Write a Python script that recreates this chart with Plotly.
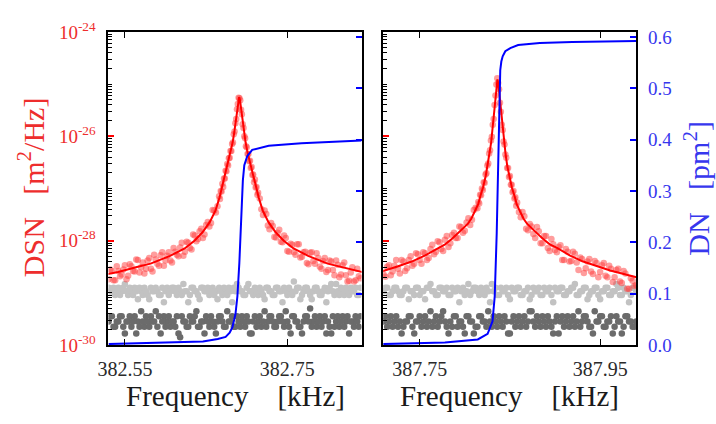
import numpy as np
import plotly.graph_objects as go

# ---------------- data (frequencies in kHz, spectral values as log10 exponents) -------------
LEFT_FREQ = [382.530,382.534,382.538,382.542,382.546,382.550,382.554,382.558,382.562,382.566,
             382.570,382.574,382.578,382.582,382.586,382.590,382.594,382.598,382.602,382.606,
             382.610,382.614,382.618,382.622,382.626,382.630,382.634,382.638,382.642,382.646,
             382.650,382.654,382.658,382.662,382.666,382.670,382.674,382.678,382.682,382.686,
             382.690,382.694,382.698,382.702,382.706,382.710,382.714,382.718,382.722,382.726,
             382.730,382.734,382.738,382.742,382.746,382.750,382.754,382.758,382.762,382.766,
             382.770,382.774,382.778,382.782,382.786,382.790,382.794,382.798,382.802,382.806,
             382.810,382.814,382.818,382.822,382.826,382.830,382.834,382.838]
LEFT_MID_FREQ = [382.532,382.536,382.540,382.544,382.548,382.552,382.556,382.560,382.564,382.568,
                 382.572,382.576,382.580,382.584,382.588,382.592,382.596,382.600,382.604,382.608,
                 382.612,382.616,382.620,382.624,382.628,382.632,382.636,382.640,382.644,382.648,
                 382.652,382.656,382.660,382.664,382.668,382.672,382.676,382.680,382.684,382.688,
                 382.692,382.696,382.700,382.704,382.708,382.712,382.716,382.720,382.724,382.728,
                 382.732,382.736,382.740,382.744,382.748,382.752,382.756,382.760,382.764,382.768,
                 382.772,382.776,382.780,382.784,382.788,382.792,382.796,382.800,382.804,382.808,
                 382.812,382.816,382.820,382.824,382.828,382.832,382.836,382.840]
LEFT_FINE_FREQ = [382.667,382.668,382.669,382.670,382.671,382.672,382.673,382.674,382.675,382.676,
                  382.677,382.678,382.679,382.680,382.681,382.682,382.683,382.684,382.685,382.686,
                  382.687,382.688,382.689,382.690,382.691,382.692,382.693,382.694,382.695,382.696,
                  382.697,382.698,382.699,382.700,382.701,382.702,382.703,382.704,382.705,382.706,
                  382.707,382.708,382.709,382.710,382.711,382.712,382.713,382.714]
LEFT_DSN_LOG = [-28.74,-28.58,-28.76,-28.58,-28.65,-28.47,-28.67,-28.49,-28.59,-28.37,
                -28.51,-28.63,-28.38,-28.54,-28.27,-28.44,-28.28,-28.48,-28.29,-28.38,
                -28.14,-28.27,-28.13,-28.29,-28.02,-28.14,-27.88,-28.01,-27.82,-27.95,
                -27.70,-27.73,-27.41,-27.46,-27.15,
                -27.20,-27.05,-27.06,-26.91,-26.97,-26.81,-26.81,-26.66,-26.67,-26.53,
                -26.56,-26.42,-26.41,-26.28,-26.28,-26.15,-26.12,-25.96,-25.91,-25.75,
                -25.67,-25.48,-25.38,-25.26,-25.27,-25.31,-25.49,-25.58,-25.77,-25.84,
                -26.00,-26.04,-26.19,-26.21,-26.34,-26.34,-26.48,-26.47,-26.61,-26.59,
                -26.74,-26.73,-26.88,-26.83,-26.98,-26.97,-27.12,-27.08,
                -27.40,-27.42,-27.71,-27.66,-27.93,-27.85,-28.02,-27.90,-28.20,-28.06,
                -28.22,-28.07,-28.32,-28.22,-28.43,-28.23,-28.39,-28.24,-28.50,-28.39,
                -28.60,-28.38,-28.56,-28.38,-28.70,-28.47,-28.66,-28.77,-28.51,-28.76,
                -28.68]
LEFT_DSN_MID_LOG = [-28.55,-28.76,-28.49,-28.68,-28.55,-28.74,-28.45,-28.58,-28.36,-28.61,
                    -28.42,-28.54,-28.33,-28.59,-28.36,-28.48,-28.22,-28.38,-28.22,-28.42,
                    -28.21,-28.30,-28.04,-28.21,-28.04,-28.17,-27.90,-27.97,-27.77,-27.88,
                    -27.64,-27.66,-27.42,-27.34,
                    -27.19,-27.51,-27.49,-27.78,-27.72,-27.94,-27.79,-28.03,-27.95,-28.21,
                    -28.08,-28.27,-28.07,-28.31,-28.21,-28.45,-28.22,-28.44,-28.33,-28.54,
                    -28.33,-28.56,-28.40,-28.66,-28.46,-28.65,-28.42,-28.78,-28.61,-28.78,
                    -28.54,-28.72]
LEFT_LIGHT_LOG = [-28.90,-28.97,-29.04,-28.90,-28.97,-28.83,-29.04,-28.97,-28.90,-29.12,
                  -28.97,-28.90,-29.04,-28.90,-28.97,-28.97,-29.04,-29.18,-28.90,-28.97,
                  -28.90,-29.04,-28.97,-28.83,-28.97,-29.04,-28.90,-28.97,-29.12,-28.90,
                  -28.97,-29.04,-28.90,-28.97,-28.90,-29.04,-28.97,-28.90,-29.18,-28.97,
                  -28.90,-28.97,-29.04,-28.83,-28.97,-28.90,-29.04,-28.97,-29.12,-28.90,
                  -28.97,-29.04,-28.90,-28.97,-28.90,-29.04,-28.97,-28.78,-28.90,-29.12,
                  -28.97,-28.90,-29.04,-28.97,-28.90,-29.04,-28.97,-29.18,-28.90,-28.97,
                  -28.83,-29.04,-28.97,-28.90,-29.04,-28.97,-28.90,-29.04]
LEFT_LIGHT_MID_LOG = [-28.97,-28.90,-28.97,-29.04,-28.90,-28.97,-28.90,-29.04,-28.97,-28.90,
                      -29.04,-28.97,-29.12,-28.97,-28.90,-29.04,-28.90,-28.97,-29.04,-28.90,
                      -28.97,-28.90,-29.04,-28.97,-29.18,-28.90,-28.97,-29.04,-28.90,-28.97,
                      -28.90,-28.97,-29.04,-29.12,-28.97,-28.90,-29.04,-28.97,-28.90,-28.83,
                      -28.97,-29.04,-28.90,-28.97,-29.04,-28.97,-28.90,-29.04,-28.90,-28.97,
                      -29.04,-28.90,-28.97,-29.18,-28.97,-28.90,-29.04,-28.97,-28.90,-29.04,
                      -28.90,-28.97,-29.12,-28.90,-28.97,-29.04,-28.90,-28.97,-28.83,-29.04,
                      -28.97,-28.90,-29.04,-28.97,-28.90,-28.97,-29.04,-28.90]
LEFT_DARK_LOG = [-29.55,-29.45,-29.65,-29.55,-29.45,-29.78,-29.55,-29.65,-29.45,-29.55,
                 -29.35,-29.65,-29.55,-29.45,-29.55,-29.65,-29.78,-29.45,-29.55,-29.65,
                 -29.55,-29.45,-29.85,-29.55,-29.65,-29.45,-29.55,-29.35,-29.65,-29.55,
                 -29.45,-29.65,-29.55,-29.78,-29.45,-29.55,-29.65,-29.55,-29.45,-29.65,
                 -29.55,-29.45,-29.65,-29.55,-29.78,-29.45,-29.55,-29.65,-29.35,-29.55,
                 -29.45,-29.65,-29.55,-29.45,-29.65,-29.55,-29.78,-29.45,-29.55,-29.65,
                 -29.55,-29.45,-29.30,-29.55,-29.65,-29.45,-29.55,-29.78,-29.65,-29.45,
                 -29.55,-29.65,-29.45,-29.55,-29.78,-29.55,-29.45,-29.65]
LEFT_DARK_MID_LOG = [-29.45,-29.65,-29.55,-29.45,-29.65,-29.55,-29.45,-29.55,-29.78,-29.65,
                     -29.55,-29.45,-29.65,-29.55,-29.35,-29.45,-29.55,-29.65,-29.45,-29.55,
                     -29.65,-29.78,-29.45,-29.55,-29.65,-29.55,-29.45,-29.65,-29.55,-29.78,
                     -29.55,-29.45,-29.65,-29.55,-29.45,-29.65,-29.35,-29.55,-29.65,-29.45,
                     -29.65,-29.55,-29.45,-29.78,-29.55,-29.65,-29.45,-29.55,-29.65,-29.45,
                     -29.55,-29.65,-29.45,-29.55,-29.35,-29.65,-29.45,-29.55,-29.65,-29.78,
                     -29.45,-29.55,-29.65,-29.45,-29.55,-29.65,-29.45,-29.55,-29.78,-29.65,
                     -29.45,-29.55,-29.65,-29.45,-29.55,-29.65,-29.55,-29.45]
LEFT_FIT_FREQ = [382.5286,382.5416,382.5636,382.5816,382.6056,382.6236,382.6356,382.6456,382.6546,382.6616,
                 382.6666,382.6706,382.6736,382.6766,382.6786,382.6806,382.6826,382.6846,382.6856,382.6866,
                 382.6876,382.6886,382.6896,382.6906,382.6916,382.6926,382.6936,382.6946,382.6956,382.6966,
                 382.6986,382.7006,382.7026,382.7046,382.7076,382.7106,382.7146,382.7196,382.7266,382.7356,
                 382.7456,382.7576,382.7756,382.7996,382.8176,382.8396,382.8526]
LEFT_FIT_LOG = [-28.64,-28.60,-28.51,-28.44,-28.29,-28.15,-28.00,-27.84,-27.64,-27.42,
                -27.17,-26.91,-26.73,-26.54,-26.42,-26.28,-26.12,-25.93,-25.82,-25.70,
                -25.56,-25.42,-25.30,-25.25,-25.30,-25.42,-25.56,-25.70,-25.82,-25.93,
                -26.12,-26.28,-26.42,-26.54,-26.73,-26.91,-27.17,-27.42,-27.64,-27.84,
                -28.00,-28.15,-28.29,-28.44,-28.51,-28.60,-28.64]
LEFT_DN_FREQ = [382.5298,382.5916,382.6461,382.6643,382.6700,382.6740,382.6790,382.6824,382.6861,382.6885,
                382.6909,382.6921,382.6938,382.6952,382.6970,382.6990,382.7007,382.7067,382.7270,382.7673,
                382.8413]
LEFT_DN = [0.002,0.004,0.007,0.012,0.014,0.016,0.024,0.035,0.060,0.095,
           0.160,0.200,0.278,0.320,0.350,0.360,0.368,0.380,0.388,0.393,
           0.398]

RIGHT_FREQ = [387.710,387.714,387.718,387.722,387.726,387.730,387.734,387.738,387.742,387.746,
              387.750,387.754,387.758,387.762,387.766,387.770,387.774,387.778,387.782,387.786,
              387.790,387.794,387.798,387.802,387.806,387.810,387.814,387.818,387.822,387.826,
              387.830,387.834,387.838,387.842,387.846,387.850,387.854,387.858,387.862,387.866,
              387.870,387.874,387.878,387.882,387.886,387.890,387.894,387.898,387.902,387.906,
              387.910,387.914,387.918,387.922,387.926,387.930,387.934,387.938,387.942,387.946,
              387.950,387.954,387.958,387.962,387.966,387.970,387.974,387.978,387.982,387.986,
              387.990]
RIGHT_MID_FREQ = [387.712,387.716,387.720,387.724,387.728,387.732,387.736,387.740,387.744,387.748,
                  387.752,387.756,387.760,387.764,387.768,387.772,387.776,387.780,387.784,387.788,
                  387.792,387.796,387.800,387.804,387.808,387.812,387.816,387.820,387.824,387.828,
                  387.832,387.836,387.840,387.844,387.848,387.852,387.856,387.860,387.864,387.868,
                  387.872,387.876,387.880,387.884,387.888,387.892,387.896,387.900,387.904,387.908,
                  387.912,387.916,387.920,387.924,387.928,387.932,387.936,387.940,387.944,387.948,
                  387.952,387.956,387.960,387.964,387.968,387.972,387.976,387.980,387.984,387.988]
RIGHT_FINE_FREQ = [387.815,387.816,387.817,387.818,387.819,387.820,387.821,387.822,387.823,387.824,
                   387.825,387.826,387.827,387.828,387.829,387.830,387.831,387.832,387.833,387.834,
                   387.835,387.836,387.837,387.838,387.839,387.840,387.841,387.842,387.843,387.844,
                   387.845,387.846,387.847,387.848,387.849,387.850,387.851,387.852,387.853,387.854,
                   387.855,387.856,387.857]
RIGHT_DSN_LOG = [-28.65,-28.50,-28.66,-28.48,-28.54,-28.37,-28.58,-28.37,-28.48,-28.24,
                 -28.37,-28.22,-28.37,-28.16,-28.26,-28.01,-28.16,-27.98,-28.12,-27.89,
                 -27.95,-27.73,-27.85,-27.65,-27.70,-27.41,-27.38,
                 -27.26,-27.29,-27.12,-27.13,-27.00,-27.03,-26.88,-26.89,-26.73,-26.71,
                 -26.56,-26.52,-26.33,-26.27,-26.08,-26.01,-25.78,-25.67,-25.40,-25.22,
                 -25.01,-24.89,-24.98,-25.10,-25.36,-25.53,-25.78,-25.88,-26.10,-26.16,
                 -26.35,-26.41,-26.61,-26.61,-26.78,-26.76,-26.93,-26.93,-27.07,-27.05,
                 -27.19,-27.17,-27.33,
                 -27.27,-27.55,-27.53,-27.80,-27.73,-27.95,-27.82,-28.05,-27.91,-28.20,
                 -28.07,-28.22,-28.09,-28.37,-28.21,-28.39,-28.25,-28.56,-28.35,-28.53,
                 -28.35,-28.64,-28.43,-28.60,-28.43,-28.70,-28.54,-28.70,-28.54,-28.81,
                 -28.63,-28.92,-28.77,-28.85]
RIGHT_DSN_MID_LOG = [-28.69,-28.47,-28.59,-28.37,-28.63,-28.40,-28.53,-28.30,-28.44,-28.26,
                     -28.44,-28.24,-28.33,-28.08,-28.21,-28.03,-28.20,-27.91,-28.05,-27.85,
                     -27.95,-27.74,-27.81,-27.57,-27.60,-27.37,
                     -27.45,-27.45,-27.77,-27.68,-27.87,-27.74,-28.05,-27.91,-28.14,-27.97,
                     -28.18,-28.12,-28.37,-28.16,-28.40,-28.21,-28.42,-28.32,-28.62,-28.40,
                     -28.59,-28.39,-28.70,-28.47,-28.67,-28.48,-28.79,-28.56,-28.78,-28.58,
                     -28.92,-28.72,-28.87]
RIGHT_LIGHT_LOG = [-28.97,-28.90,-29.04,-28.90,-28.97,-29.04,-28.90,-29.12,-28.97,-28.90,
                   -29.04,-28.97,-28.90,-28.83,-28.97,-29.04,-28.90,-28.97,-29.04,-28.90,
                   -28.97,-29.18,-28.90,-28.97,-29.04,-28.90,-28.97,-28.90,-29.04,-28.97,
                   -28.83,-28.90,-29.04,-28.97,-28.90,-29.12,-28.97,-28.90,-29.04,-28.97,
                   -28.90,-29.04,-28.97,-28.90,-29.04,-28.97,-28.90,-29.18,-28.97,-28.90,
                   -29.04,-28.97,-28.90,-28.83,-29.04,-28.97,-28.90,-29.04,-28.97,-28.90,
                   -29.12,-28.97,-28.90,-29.04,-28.97,-28.90,-29.04,-28.97,-29.18,-28.90,
                   -28.97]
RIGHT_LIGHT_MID_LOG = [-28.90,-29.04,-28.97,-28.90,-29.04,-28.97,-28.90,-28.97,-29.04,-28.90,
                       -28.97,-29.12,-28.90,-28.97,-29.04,-28.90,-28.97,-28.90,-29.04,-28.97,
                       -28.90,-28.97,-29.04,-28.83,-28.97,-28.90,-29.04,-28.97,-28.90,-29.18,
                       -28.97,-29.04,-28.90,-28.97,-29.04,-28.90,-28.97,-28.90,-29.04,-28.97,
                       -29.12,-28.90,-28.97,-29.04,-28.90,-28.97,-29.04,-28.90,-28.97,-28.90,
                       -29.04,-28.97,-28.90,-29.04,-28.97,-28.90,-29.12,-28.97,-28.90,-29.04,
                       -28.97,-28.90,-29.04,-28.97,-28.83,-29.04,-28.90,-28.97,-29.04,-28.90]
RIGHT_DARK_LOG = [-29.55,-29.65,-29.45,-29.55,-29.65,-29.78,-29.55,-29.45,-29.65,-29.55,
                  -29.45,-29.55,-29.65,-29.35,-29.55,-29.65,-29.45,-29.55,-29.78,-29.65,
                  -29.45,-29.55,-29.65,-29.45,-29.55,-29.78,-29.65,-29.45,-29.55,-29.35,
                  -29.65,-29.55,-29.45,-29.65,-29.55,-29.78,-29.45,-29.55,-29.65,-29.45,
                  -29.55,-29.35,-29.65,-29.55,-29.45,-29.65,-29.55,-29.78,-29.45,-29.55,
                  -29.65,-29.45,-29.55,-29.65,-29.35,-29.55,-29.45,-29.65,-29.78,-29.55,
                  -29.45,-29.65,-29.55,-29.45,-29.65,-29.55,-29.78,-29.45,-29.55,-29.65,
                  -29.55]
RIGHT_DARK_MID_LOG = [-29.45,-29.55,-29.65,-29.45,-29.55,-29.65,-29.55,-29.45,-29.78,-29.55,
                      -29.65,-29.45,-29.55,-29.65,-29.45,-29.55,-29.35,-29.65,-29.55,-29.45,
                      -29.65,-29.55,-29.78,-29.45,-29.55,-29.65,-29.45,-29.55,-29.65,-29.55,
                      -29.45,-29.65,-29.55,-29.45,-29.78,-29.55,-29.65,-29.45,-29.55,-29.65,
                      -29.35,-29.55,-29.45,-29.65,-29.55,-29.45,-29.65,-29.55,-29.78,-29.45,
                      -29.55,-29.65,-29.45,-29.55,-29.65,-29.45,-29.55,-29.65,-29.35,-29.55,
                      -29.45,-29.65,-29.55,-29.78,-29.45,-29.55,-29.65,-29.45,-29.55,-29.65]
RIGHT_FIT_FREQ = [387.6822,387.6962,387.7112,387.7262,387.7412,387.7562,387.7702,387.7782,387.7862,387.7922,
                  387.7982,387.8032,387.8072,387.8112,387.8149,387.8172,387.8202,387.8232,387.8252,387.8272,
                  387.8292,387.8302,387.8312,387.8322,387.8332,387.8342,387.8352,387.8362,387.8372,387.8382,
                  387.8392,387.8402,387.8412,387.8422,387.8432,387.8452,387.8472,387.8492,387.8522,387.8552,
                  387.8575,387.8612,387.8652,387.8692,387.8742,387.8802,387.8862,387.8942,387.9022,387.9162,
                  387.9312,387.9462,387.9612,387.9762,387.9902]
RIGHT_FIT_LOG = [-28.70,-28.64,-28.57,-28.49,-28.40,-28.28,-28.14,-28.07,-27.96,-27.86,
                 -27.77,-27.68,-27.58,-27.44,-27.30,-27.15,-26.98,-26.76,-26.58,-26.34,
                 -26.12,-25.95,-25.78,-25.60,-25.38,-25.16,-24.99,-24.91,-24.99,-25.16,
                 -25.38,-25.60,-25.78,-25.95,-26.12,-26.34,-26.58,-26.76,-26.98,-27.15,
                 -27.30,-27.44,-27.58,-27.68,-27.77,-27.86,-27.96,-28.07,-28.14,-28.28,
                 -28.40,-28.49,-28.57,-28.64,-28.70]
RIGHT_DN_FREQ = [387.7096,387.7780,387.8144,387.8253,387.8307,387.8332,387.8354,387.8365,387.8376,387.8385,
                 387.8393,387.8405,387.8420,387.8449,387.8504,387.8591,387.8831,387.9191,387.9900]
RIGHT_DN = [0.002,0.005,0.011,0.022,0.046,0.095,0.218,0.300,0.400,0.500,
            0.535,0.552,0.562,0.572,0.578,0.584,0.588,0.590,0.592]

DSN_TICK_EXP = [-30, -28, -26, -24]
DN_TICKS = [0.0, 0.1, 0.2, 0.3, 0.4, 0.5, 0.6]
LEFT_XTICKS = [382.55, 382.75]
RIGHT_XTICKS = [387.75, 387.95]
LEFT_XRANGE = [382.5298, 382.8413]
RIGHT_XRANGE = [387.7096, 387.9900]

# ---------------- styling ----------------
FONT = "'Liberation Serif', 'Times New Roman', 'DejaVu Serif', serif"
RED_TXT = "rgb(238,45,45)"
BLUE_TXT = "rgb(55,55,238)"
W, H = 716, 424
PANELS = [(99, 356), (378, 635)]
TOP, BOT = 20, 352


def p(v):
    return np.power(10.0, np.asarray(v))


fig = go.Figure()

panel_data = [
    dict(freq=LEFT_FREQ + LEFT_MID_FREQ,
         red_x=LEFT_FREQ[:35] + LEFT_FINE_FREQ + LEFT_FREQ[47:] + LEFT_MID_FREQ[:34] + LEFT_MID_FREQ[46:],
         red=LEFT_DSN_LOG + LEFT_DSN_MID_LOG,
         light=LEFT_LIGHT_LOG + LEFT_LIGHT_MID_LOG, dark=LEFT_DARK_LOG + LEFT_DARK_MID_LOG,
         fx=LEFT_FIT_FREQ, fy=LEFT_FIT_LOG, dx=LEFT_DN_FREQ, dy=LEFT_DN, ya="y", ya2="y2", xa="x"),
    dict(freq=RIGHT_FREQ + RIGHT_MID_FREQ,
         red_x=RIGHT_FREQ[:27] + RIGHT_FINE_FREQ + RIGHT_FREQ[37:] + RIGHT_MID_FREQ[:26] + RIGHT_MID_FREQ[37:],
         red=RIGHT_DSN_LOG + RIGHT_DSN_MID_LOG,
         light=RIGHT_LIGHT_LOG + RIGHT_LIGHT_MID_LOG, dark=RIGHT_DARK_LOG + RIGHT_DARK_MID_LOG,
         fx=RIGHT_FIT_FREQ, fy=RIGHT_FIT_LOG, dx=RIGHT_DN_FREQ, dy=RIGHT_DN, ya="y3", ya2="y4", xa="x2"),
]

for d in panel_data:
    fig.add_trace(go.Scatter(x=d["freq"], y=p(d["dark"]), mode="markers", xaxis=d["xa"], yaxis=d["ya"],
                             marker=dict(size=6.5, color="#6b6b6b", line=dict(width=0)), showlegend=False))
    fig.add_trace(go.Scatter(x=d["freq"], y=p(d["light"]), mode="markers", xaxis=d["xa"], yaxis=d["ya"],
                             marker=dict(size=6.5, color="#c2c2c2", line=dict(width=0)), showlegend=False))
    fig.add_trace(go.Scatter(x=d["red_x"], y=p(d["red"]), mode="markers", xaxis=d["xa"], yaxis=d["ya"],
                             marker=dict(size=6.5, color="rgba(255,60,60,0.5)", line=dict(width=0)),
                             showlegend=False))
    fig.add_trace(go.Scatter(x=d["fx"], y=p(d["fy"]), mode="lines", xaxis=d["xa"], yaxis=d["ya"],
                             line=dict(color="#ff0000", width=2), showlegend=False))
    fig.add_trace(go.Scatter(x=d["dx"], y=d["dy"], mode="lines", xaxis=d["xa"], yaxis=d["ya2"],
                             line=dict(color="#0000ff", width=2), showlegend=False))

minor_vals = [m * 10.0 ** e for e in range(-30, -24) for m in range(1, 10) if not (m == 1 and e % 2 == 0)]
ydom = [1 - BOT / H, 1 - TOP / H]


def xaxis(i, ticks, anchor):
    l, r = PANELS[i]
    return dict(domain=[l / W, r / W], anchor=anchor,
                range=[LEFT_XRANGE, RIGHT_XRANGE][i],
                tickmode="array", tickvals=ticks, ticktext=[f"{t:.2f}" for t in ticks],
                ticks="inside", ticklen=6, tickwidth=1.2, tickcolor="black",
                showline=True, linecolor="black", linewidth=2, mirror="ticks",
                showgrid=False, zeroline=False, ticklabelstandoff=5,
                tickfont=dict(family=FONT, size=20, color="#2a2a2a"))


def logaxis(anchor, labels):
    return dict(domain=ydom, anchor=anchor, type="log", range=[-30, -24],
                tickmode="array", tickvals=[10.0 ** e for e in DSN_TICK_EXP],
                ticktext=[f"10<sup>{e}</sup>" for e in DSN_TICK_EXP],
                ticks="inside", ticklen=6, tickwidth=1.5, tickcolor="red",
                minor=dict(tickmode="array", tickvals=minor_vals, ticks="inside", ticklen=3.5,
                           tickwidth=1, tickcolor="black"),
                showticklabels=labels, showline=True, linecolor="black", linewidth=2, mirror=True,
                showgrid=False, zeroline=False, ticklabelstandoff=7,
                tickfont=dict(family=FONT, size=19, color=RED_TXT))


def dnaxis(anchor, over, labels):
    return dict(anchor=anchor, overlaying=over, side="right", range=[0, 0.6097],
                tickmode="array", tickvals=DN_TICKS, ticktext=[f"{t:.1f}" for t in DN_TICKS],
                ticks="inside", ticklen=6, tickwidth=1.5, tickcolor="blue",
                showticklabels=labels, showline=True, linecolor="black", linewidth=2,
                showgrid=False, zeroline=False, ticklabelstandoff=6,
                tickfont=dict(family=FONT, size=19, color=BLUE_TXT))


nb = "\u00a0"
ann = []
for i in range(2):
    l, r = PANELS[i]
    ann.append(dict(text=f"Frequency{nb*4}[kHz]", x=(l + r) / 2 / W, y=1 - 387 / H, xref="paper", yref="paper",
                    xanchor="center", yanchor="top", showarrow=False,
                    font=dict(family=FONT, size=29, color="#1a1a1a")))
ann.append(dict(text=f"DSN{nb*3}[m<sup>2</sup>/Hz]", x=20 / W, y=1 - 185 / H, xref="paper", yref="paper",
                xanchor="center", yanchor="middle", textangle=-90, showarrow=False,
                font=dict(family=FONT, size=30, color=RED_TXT)))
ann.append(dict(text=f"DN{nb*3}[pm<sup>2</sup>]", x=697 / W, y=1 - 186 / H, xref="paper", yref="paper",
                xanchor="center", yanchor="middle", textangle=-90, showarrow=False,
                font=dict(family=FONT, size=30, color=BLUE_TXT)))

fig.update_layout(
    width=W, height=H, margin=dict(l=0, r=0, t=0, b=0),
    paper_bgcolor="white", plot_bgcolor="white", showlegend=False,
    xaxis=xaxis(0, LEFT_XTICKS, "y"), xaxis2=xaxis(1, RIGHT_XTICKS, "y3"),
    yaxis=logaxis("x", True), yaxis2=dnaxis("x", "y", False),
    yaxis3=logaxis("x2", False), yaxis4=dnaxis("x2", "y3", True),
    annotations=ann,
)

fig.write_html("out.html")
